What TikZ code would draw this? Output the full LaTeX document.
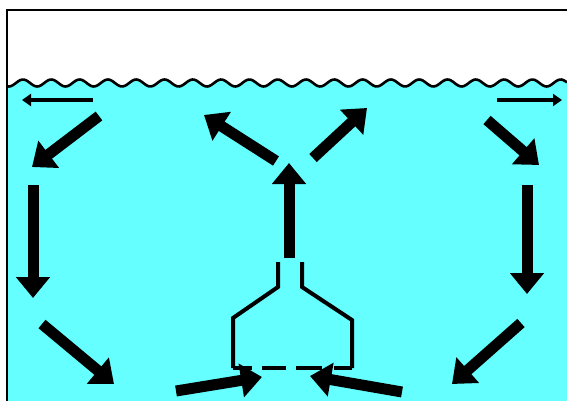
\documentclass[tikz,border=0pt]{standalone}
\usetikzlibrary{arrows.meta}
\definecolor{water}{RGB}{102,255,255}
\begin{document}
\begin{tikzpicture}[x=1pt,y=-1pt,
  flow/.style={line width=11pt, -{Triangle[width=33pt,length=21pt]}},
  drift/.style={line width=4.5pt, -{Triangle[width=12pt,length=9pt]}},
  nozzle/.style={line width=4pt},
  frame/.style={line width=2pt}]
\useasboundingbox (0,0) rectangle (567,401);
\fill[white] (0,0) rectangle (567,401);
% water body below the wavy surface
\fill[water] (7,401) -- (7,83)
  -- plot[domain=7:567,samples=300] (\x,{83-3.5*cos((\x-23)/28.3*360)})
  -- (567,401) -- cycle;
\draw[line width=2.6pt] plot[domain=7:567,samples=300] (\x,{83-3.5*cos((\x-23)/28.3*360)});
% tank outline
\draw[frame] (7,401) -- (7,10) -- (567,10);

% end points of the circulation arrows
\coordinate (sl1) at (93,100);  \coordinate (sl2) at (22,100);
\coordinate (sr1) at (497,100); \coordinate (sr2) at (562,100);
\coordinate (a1) at (99,116);   \coordinate (a2) at (32,167);
\coordinate (b1) at (33,185);   \coordinate (b2) at (33,298);
\coordinate (c1) at (42,324);   \coordinate (c2) at (114,384);
\coordinate (d1) at (176,391);  \coordinate (d2) at (262,377);
\coordinate (e1) at (402,392);  \coordinate (e2) at (310,376);
\coordinate (f1) at (521,323);  \coordinate (f2) at (452,384);
\coordinate (g1) at (527,185);  \coordinate (g2) at (527,294);
\coordinate (h1) at (487,120);  \coordinate (h2) at (539,165);
\coordinate (i1) at (289,258);  \coordinate (i2) at (289,163);
\coordinate (j1) at (276,161);  \coordinate (j2) at (204,115);
\coordinate (k1) at (313,158);  \coordinate (k2) at (367,108);

% nozzle
\draw[nozzle] (278,262) -- (278,287) -- (233,318) -- (233,368);
\draw[nozzle] (302,262) -- (302,287) -- (352,320) -- (352,368);
\foreach \u/\v in {233/252, 262/286, 296/322, 334/352}
  \draw[nozzle] (\u,368) -- (\v,368);

% surface drift
\draw[drift] (sl1) -- (sl2);
\draw[drift] (sr1) -- (sr2);
% circulation
\foreach \p in {a,b,c,d,e,f,g,h,i,j,k}
  \draw[flow] (\p1) -- (\p2);
\end{tikzpicture}
\end{document}
